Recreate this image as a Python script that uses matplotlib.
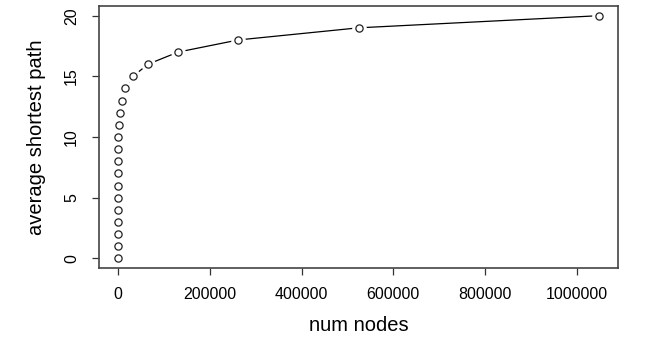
import matplotlib
matplotlib.use('Agg')
import matplotlib.pyplot as plt

num_nodes = [1, 2, 4, 8, 16, 32, 64, 128, 256, 512, 1024, 2048, 4096, 8192,
             16384, 32768, 65536, 131072, 262144, 524288, 1048576]
avg_path = [0, 1, 2, 3, 4, 5, 6, 7, 8, 9, 10, 11, 12, 13, 14, 15, 16, 17, 18, 19, 20]
x_ticks = [0, 200000, 400000, 600000, 800000, 1000000]
y_ticks = [0, 5, 10, 15, 20]

plt.rcParams['font.family'] = ['Liberation Sans', 'DejaVu Sans']

fig = plt.figure(figsize=(6.57, 3.46), dpi=100)
ax = fig.add_axes([0.1502, 0.2254, 0.7912, 0.7573])

# R type="b": line with gaps around the points
ax.plot(num_nodes, avg_path, color='black', lw=0.9, zorder=1)
ax.plot(num_nodes, avg_path, ls='none', marker='o', ms=9.5, mfc='white', mec='white', zorder=2)
ax.plot(num_nodes, avg_path, ls='none', marker='o', ms=5.2, mfc='white', mec='#222222', mew=0.9, zorder=3)

xr = num_nodes[-1] - num_nodes[0]
ax.set_xlim(num_nodes[0] - 0.04 * xr, num_nodes[-1] + 0.04 * xr)
ax.set_ylim(-0.8, 20.8)
ax.set_xticks(x_ticks)
ax.set_xticklabels([str(t) for t in x_ticks])
ax.set_yticks(y_ticks)
ax.set_yticklabels([str(t) for t in y_ticks], rotation=90, va='center')
ax.tick_params(direction='out', length=5, width=0.9, color='#333333', labelsize=11.5, pad=9)

for spine in ax.spines.values():
    spine.set_color('#444444')
    spine.set_linewidth(1.2)

ax.set_xlabel('num nodes', fontsize=14.5, va='center', ha='center')
ax.xaxis.set_label_coords(0.5, -0.221)
ax.set_ylabel('average shortest path', fontsize=14.5, va='center', ha='center')
ax.yaxis.set_label_coords(-0.1187, 0.5)

plt.savefig('out.png', dpi=100)
plt.close()
